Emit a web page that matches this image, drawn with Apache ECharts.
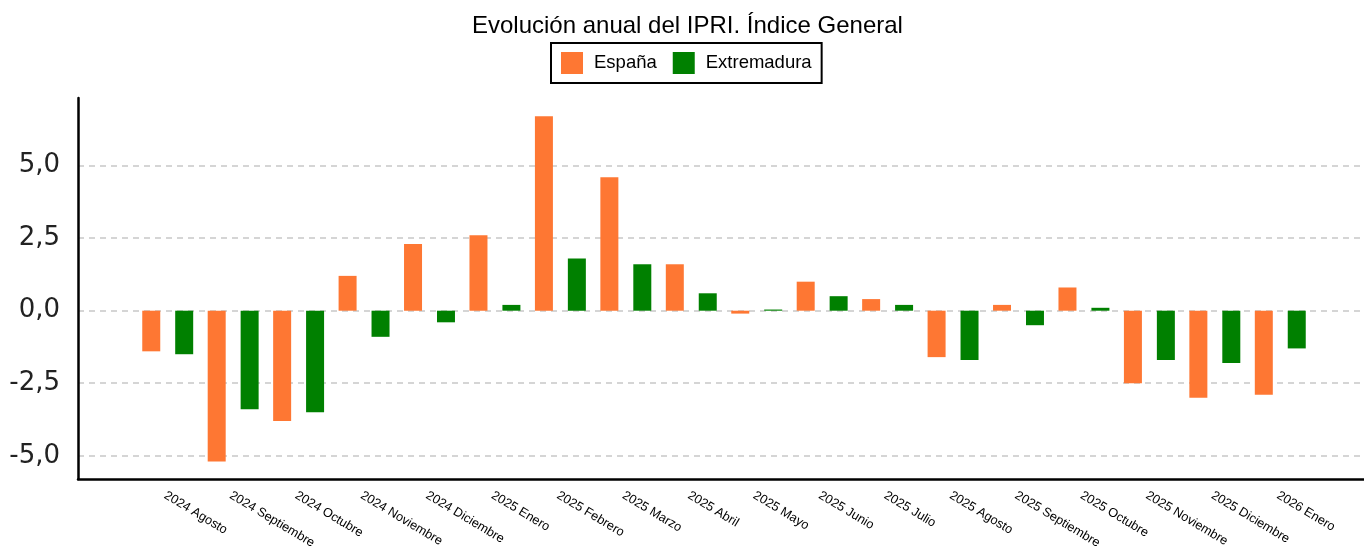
<!DOCTYPE html>
<html>
<head>
<meta charset="utf-8">
<script src="https://cdn.jsdelivr.net/npm/echarts@6/dist/echarts.min.js"></script>
<style>html,body{margin:0;padding:0;background:#fff}#c{width:1364px;height:550px}</style>
</head>
<body>
<div id="c"></div>
<script>
const categories = ['2024 Agosto','2024 Septiembre','2024 Octubre','2024 Noviembre','2024 Diciembre','2025 Enero','2025 Febrero','2025 Marzo','2025 Abril','2025 Mayo','2025 Junio','2025 Julio','2025 Agosto','2025 Septiembre','2025 Octubre','2025 Noviembre','2025 Diciembre','2026 Enero'];
const espana = [-1.4,-5.2,-3.8,1.2,2.3,2.6,6.7,4.6,1.6,-0.1,1.0,0.4,-1.6,0.2,0.8,-2.5,-3.0,-2.9];
const extremadura = [-1.5,-3.4,-3.5,-0.9,-0.4,0.2,1.8,1.6,0.6,0.04,0.5,0.2,-1.7,-0.5,0.1,-1.7,-1.8,-1.3];
const yTicks = [-5, -2.5, 0, 2.5, 5];
const yMin = -5.8, yMax = 7.33;

const chart = echarts.init(document.getElementById('c'));
const fmt = v => v.toFixed(1).replace('.', ',');
chart.setOption({
  animation: false,
  title: {text: 'Evolución anual del IPRI. Índice General', left: 467, top: 9,
    textStyle: {fontFamily: 'Liberation Sans', fontSize: 24, fontWeight: 'normal', color: '#000'}},
  legend: {top: 43, left: 551, icon: 'rect', itemWidth: 22, itemHeight: 22, itemGap: 16,
    borderColor: '#000', borderWidth: 2, padding: [9, 10, 9, 10],
    textStyle: {fontFamily: 'Liberation Sans', fontSize: 18.5, color: '#000', padding: [0, 0, 0, 6]},
    data: ['España', 'Extremadura']},
  grid: [
    {left: 78, right: 0, top: 98, bottom: 71, containLabel: false, outerBoundsMode: 'none'},
    {left: 135, right: 51, top: 98, bottom: 71, containLabel: false, outerBoundsMode: 'none'}
  ],
  xAxis: [
    {gridIndex: 0, type: 'value', min: 0, max: 1, axisLine: {show: true, onZero: false, lineStyle: {color: '#000', width: 2.5}},
      axisTick: {show: false}, axisLabel: {show: false}, splitLine: {show: false}},
    {gridIndex: 1, type: 'category', data: categories, axisLine: {show: false}, axisTick: {show: false},
      axisLabel: {rotate: -31, interval: 0, margin: 17, fontFamily: 'Liberation Sans', fontSize: 12.7, color: '#000', padding: [0, 0, 0, -3]}}
  ],
  yAxis: [
    {gridIndex: 0, type: 'value', min: yMin, max: yMax,
      axisLine: {show: true, lineStyle: {color: '#000', width: 2.5}},
      axisTick: {show: false, customValues: yTicks},
      axisLabel: {customValues: yTicks, formatter: fmt, margin: 18,
        fontFamily: 'DejaVu Sans', fontSize: 26, color: '#222'},
      splitLine: {show: true, customValues: yTicks, lineStyle: {color: '#c8c8c8', type: [6, 5], width: 1.5}}},
    {gridIndex: 1, type: 'value', min: yMin, max: yMax, show: false, splitLine: {show: false}}
  ],
  series: [
    {name: 'España', type: 'bar', xAxisIndex: 1, yAxisIndex: 1, data: espana, barWidth: 18, barGap: '83%',
      itemStyle: {color: '#fe7733'}},
    {name: 'Extremadura', type: 'bar', xAxisIndex: 1, yAxisIndex: 1, data: extremadura, barWidth: 18, barGap: '83%',
      itemStyle: {color: '#008000'}}
  ]
});
</script>
</body>
</html>
